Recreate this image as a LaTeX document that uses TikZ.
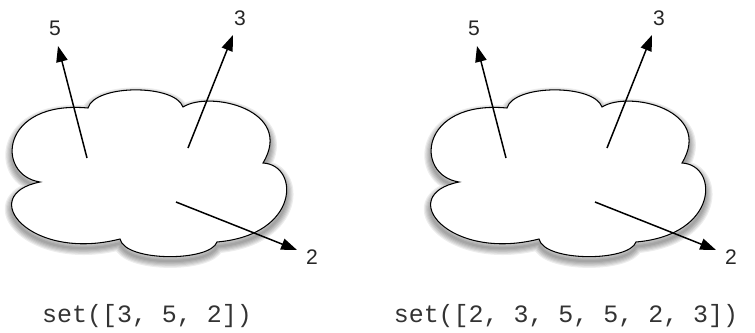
\documentclass[tikz,border=0pt]{standalone}
\usepackage{fontspec}
\setmainfont{Liberation Sans}
\setmonofont{Liberation Mono}
\usetikzlibrary{arrows.meta}
\tikzset{num/.style={font=\fontsize{12}{14}\selectfont,text=black!85,inner sep=1pt},
  code/.style={font=\fontsize{14.2}{16}\ttfamily,text=black!80,inner sep=0pt,anchor=base},
  vec/.style={line width=.85pt,-{Triangle[length=9pt,width=6.5pt]}},
  puff/.style={draw=black,line width=.6pt,fill=white},
  haze/.style={draw=black,opacity=.07}}
% outline of one cloud, in pixels of the left one
\def\cloudoutline{(40,182) .. controls (-5,175) and (0,100) .. (88,108)
  .. controls (95,84) and (175,84) .. (183,107)
  .. controls (210,90) and (295,110) .. (263,163)
  .. controls (300,165) and (300,235) .. (217,242)
  .. controls (210,262) and (125,262) .. (120,239)
  .. controls (30,262) and (-25,195) .. (40,182) -- cycle}

\begin{document}
\begin{tikzpicture}[x=0.02cm,y=-0.02cm]
\useasboundingbox (0,0) rectangle (755,332);
\foreach \i/\dx/\txt in {1/0/{set([3, 5, 2])},2/419/{set([2, 3, 5, 5, 2, 3])}}{
\begin{scope}[shift={(\dx,0)},name prefix=c\i-]
 \foreach \w in {1,...,6}
  \draw[haze,line width=1.3*\w pt,yshift=-2.5pt] \cloudoutline;
 \filldraw[puff] \cloudoutline;
 \coordinate (s5) at (87,158); \coordinate (t5) at (58,46);
 \coordinate (s3) at (188,148); \coordinate (t3) at (233,35);
 \coordinate (s2) at (176,202); \coordinate (t2) at (297,250);
 \draw[vec] (s5) -- (t5);
 \draw[vec] (s3) -- (t3);
 \draw[vec] (s2) -- (t2);
 \node[num] (l5) at (55,28) {5};
 \node[num] (l3) at (240,18) {3};
 \node[num] (l2) at (312,257) {2};
\end{scope}
\node[code] (cap\i) at (147+\dx,322) {\txt};
}
\end{tikzpicture}
\end{document}
